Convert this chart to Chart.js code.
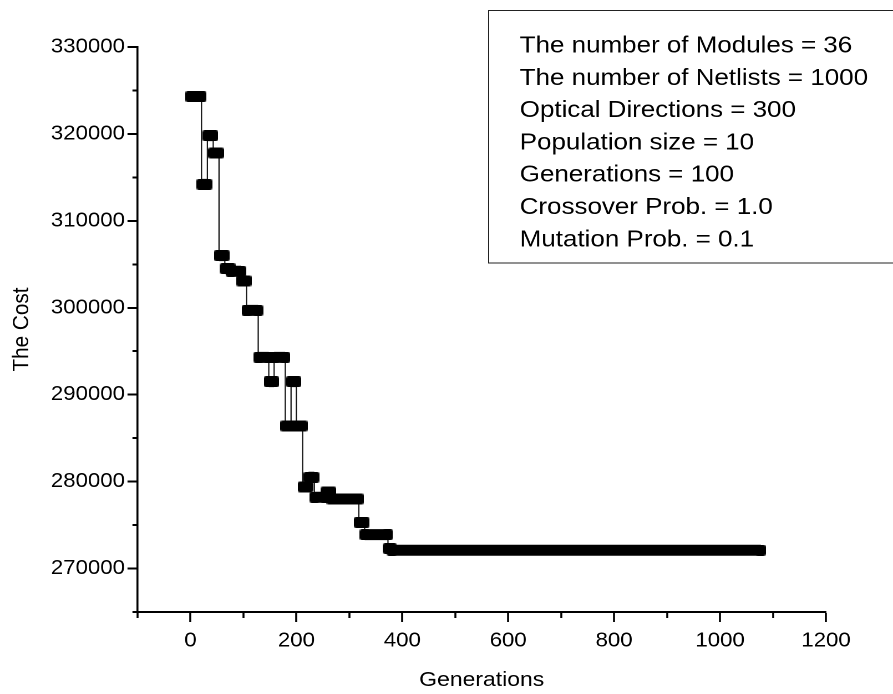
<!DOCTYPE html>
<html>
<head>
<meta charset="utf-8">
<script src="https://cdn.jsdelivr.net/npm/chart.js@4.4.0/dist/chart.umd.min.js"></script>
<style>
html,body{margin:0;padding:0;background:#fff;overflow:hidden;}
#wrap{position:absolute;left:0;top:0;width:805px;height:694px;transform:scaleX(1.1093);transform-origin:0 0;}
canvas{display:block;}
</style>
</head>
<body>
<div id="wrap"><canvas id="c" width="805" height="694" style="width:805px;height:694px"></canvas></div>
<script>
// ---- data (generation ranges of each flat step and its cost) ----
const segStart = [0, 21, 32, 43, 54, 65, 76, 96, 106, 128, 148, 158, 179, 190, 200, 212, 223, 234, 255, 266, 318, 329, 373, 380];
const segEnd   = [21, 32, 43, 54, 65, 76, 96, 106, 128, 148, 158, 179, 190, 200, 212, 223, 234, 255, 266, 318, 329, 373, 380, 1077];
const segCost  = [324300, 314200, 319800, 317800, 306000, 304500, 304200, 303100, 299700, 294300, 291500, 294300,
                  286400, 291500, 286400, 279400, 280500, 278200, 278800, 278000, 275300, 273900, 272300, 272100];
const xTickLabels = [0, 200, 400, 600, 800, 1000, 1200];
const yTickLabels = [270000, 280000, 290000, 300000, 310000, 320000, 330000];
const legendLines = [
  "The number of Modules = 36",
  "The number of Netlists = 1000",
  "Optical Directions = 300",
  "Population size = 10",
  "Generations = 100",
  "Crossover Prob. = 1.0",
  "Mutation Prob. = 0.1"
];
const xTitle = "Generations";
const yTitle = "The Cost";

const FONT = "'Liberation Sans', Arial, sans-serif";

// point tables built from the arrays
const linePts = [];
const barPts = [];
for (let i = 0; i < segCost.length; i++) {
  linePts.push({x: segStart[i], y: segCost[i]}, {x: segEnd[i], y: segCost[i]});
  barPts.push({x: segStart[i], y: segCost[i]}, {x: segEnd[i], y: segCost[i]});
  if (i < segCost.length - 1) barPts.push({x: segEnd[i], y: null});
}

// marker glyph (rounded black block like the reference symbols)
const marker = document.createElement('canvas');
marker.width = 9; marker.height = 11;
(function(){
  const m = marker.getContext('2d');
  m.fillStyle = '#000';
  m.beginPath();
  if (m.roundRect) m.roundRect(0, 0, 9, 11, 2); else m.rect(0, 0, 9, 11);
  m.fill();
})();

const legendBox = {
  id: 'legendBox',
  afterDraw(chart) {
    const ctx = chart.ctx;
    ctx.save();
    ctx.strokeStyle = '#222';
    ctx.lineWidth = 1;
    ctx.strokeRect(440.5, 10.5, 400, 252.5);
    ctx.fillStyle = '#000';
    ctx.font = "23.4px " + FONT;
    ctx.textBaseline = 'middle';
    ctx.textAlign = 'left';
    legendLines.forEach((t, i) => ctx.fillText(t, 468.5, 46 + i * 32.3));
    ctx.restore();
  }
};

new Chart(document.getElementById('c'), {
  type: 'line',
  data: {
    datasets: [
      {
        data: barPts,
        borderColor: '#000',
        borderWidth: 11,
        borderCapStyle: 'butt',
        borderJoinStyle: 'miter',
        pointStyle: marker,
        pointRadius: 4,
        pointHoverRadius: 4,
        spanGaps: false,
        tension: 0,
        fill: false
      },
      {
        data: linePts,
        borderColor: '#111',
        borderWidth: 1.1,
        pointRadius: 0,
        tension: 0,
        fill: false
      }
    ]
  },
  options: {
    responsive: false,
    animation: false,
    devicePixelRatio: 2,
    layout: { padding: { left: 0, right: 60.4, top: 47, bottom: 0 } },
    plugins: { legend: { display: false }, tooltip: { enabled: false } },
    scales: {
      x: {
        type: 'linear',
        min: -100, max: 1200,
        ticks: {
          stepSize: 100, autoSkip: false, maxRotation: 0, padding: 7,
          color: '#000', font: { family: FONT, size: 20 },
          callback: v => xTickLabels.includes(Math.round(v)) ? String(Math.round(v)) : ''
        },
        grid: {
          drawOnChartArea: false, drawTicks: true, tickLength: 10,
          tickWidth: 1.8, tickColor: '#000',
          tickBorderDash: c => (c.tick && Math.round(c.tick.value) % 200 === 0) ? [] : [5, 50]
        },
        border: { display: true, color: '#000', width: 2 },
        title: { display: true, text: xTitle, color: '#000', font: { family: FONT, size: 20.7 }, padding: { top: 0, bottom: 1.5 } },
        afterFit: s => { s.height = 82; }
      },
      y: {
        type: 'linear',
        min: 265000, max: 330000,
        ticks: {
          stepSize: 5000, autoSkip: false, padding: 2.3,
          color: '#000', font: { family: FONT, size: 20 },
          callback: v => yTickLabels.includes(Math.round(v)) ? String(Math.round(v)) : ''
        },
        grid: {
          drawOnChartArea: false, drawTicks: true, tickLength: 9,
          tickWidth: 2, tickColor: '#000',
          tickBorderDash: c => (c.tick && Math.round(c.tick.value) % 10000 === 0) ? [] : [0, 4.5, 4.5, 50]
        },
        border: { display: true, color: '#000', width: 1.8 },
        title: { display: true, text: yTitle, color: '#000', font: { family: FONT, size: 20.7 }, padding: { top: 7.4, bottom: 0 } },
        afterFit: s => { s.width = 123.9; }
      }
    }
  },
  plugins: [legendBox]
});
</script>
</body>
</html>
